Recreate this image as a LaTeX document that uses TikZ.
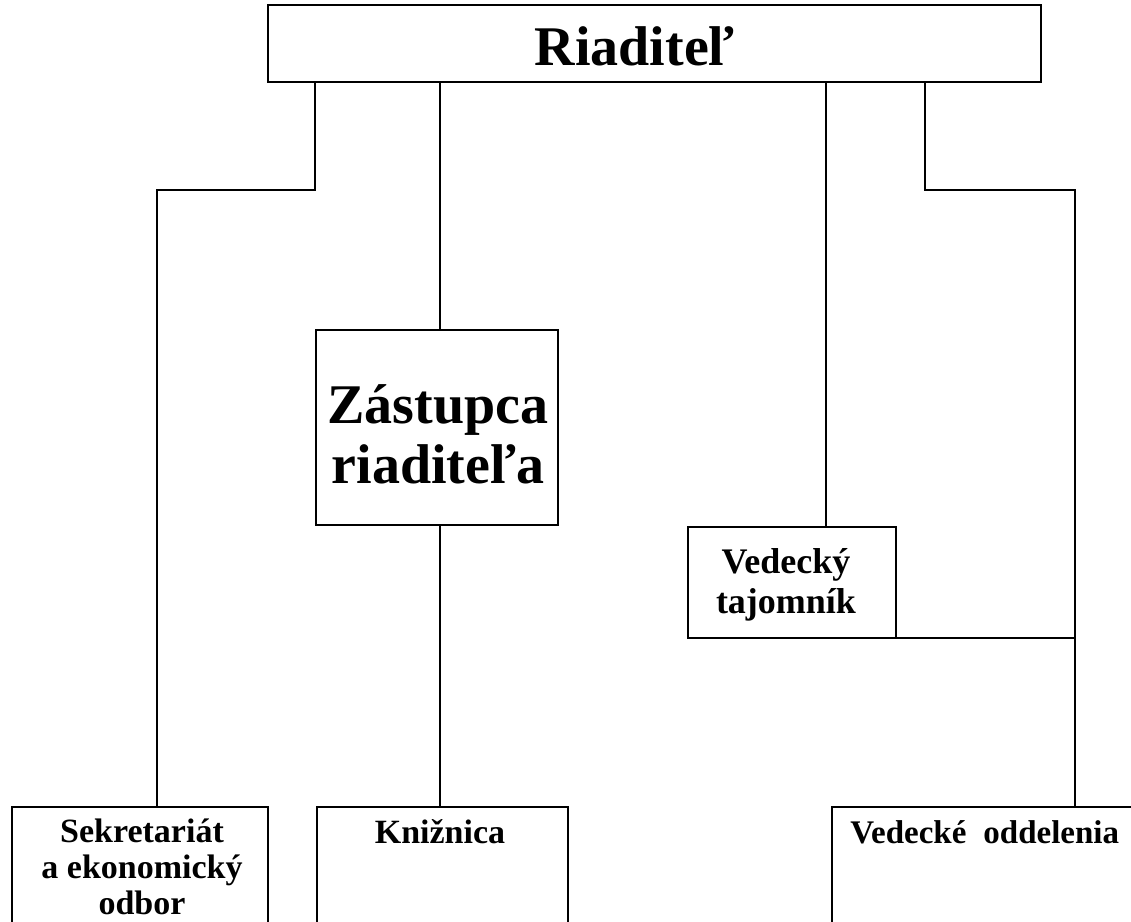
\documentclass[tikz,border=0pt]{standalone}
\usepackage{fontspec}
\setmainfont{Liberation Serif}
\begin{document}
\begin{tikzpicture}[x=1pt,y=-1pt,line width=2.6pt,
  box/.style={draw,line width=2.6pt,rectangle,inner sep=0pt,outer sep=0pt,anchor=north west},
  big/.style={font=\fontsize{56}{60}\selectfont\bfseries,align=center,inner sep=0pt},
  mid/.style={font=\fontsize{36}{40}\selectfont\bfseries,align=center,inner sep=0pt},
  small/.style={font=\fontsize{34}{36}\selectfont\bfseries,align=center,inner sep=0pt}]
\useasboundingbox (0,0) rectangle (1131,921);
\clip (0,0) rectangle (1131,921);
% boxes
\node[box,minimum width=773pt,minimum height=77pt] (top) at (268,5) {};
\node[box,minimum width=242pt,minimum height=195pt] (zas) at (316,330) {};
\node[box,minimum width=208pt,minimum height=111pt] (vt) at (688,527) {};
\node[box,minimum width=256pt,minimum height=160pt] (sek) at (12,807) {};
\node[box,minimum width=251pt,minimum height=160pt] (kni) at (317,807) {};
\node[box,minimum width=400pt,minimum height=160pt] (ved) at (832,807) {};
% texts
\node[big,anchor=base] (tRia) at (635,65) {Riaditeľ};
\node[big] (tZas) at (438,434) {Zástupca\\riaditeľa};
\node[mid] (tVt) at (786,585) {Vedecký\\tajomník};
\node[small,anchor=north] (tSek) at (142,818) {Sekretariát\\a ekonomický\\odbor};
\node[small,anchor=base] (tKni) at (440,843) {Knižnica};
\node[small,font=\fontsize{33}{36}\selectfont\bfseries,anchor=base west] (tVed) at (849,843) {Vedecké\hspace{17pt}oddelenia};
% connector positions
\coordinate (xS) at (157,0);
\coordinate (xL) at (315,0);
\coordinate (xZ) at (440,0);
\coordinate (xV) at (826,0);
\coordinate (xR) at (925,0);
\coordinate (xRR) at (1075,0);
\coordinate (yb) at (0,190);
% connectors
\draw (top.south -| xL) |- (yb -| xS) -- (sek.north -| xS);
\draw (top.south -| xZ) -- (zas.north -| xZ);
\draw (zas.south -| xZ) -- (kni.north -| xZ);
\draw (top.south -| xV) -- (vt.north -| xV);
\draw (top.south -| xR) |- (yb -| xRR) -- (ved.north -| xRR);
\draw (vt.south east) -- (vt.south east -| xRR);
\end{tikzpicture}
\end{document}
